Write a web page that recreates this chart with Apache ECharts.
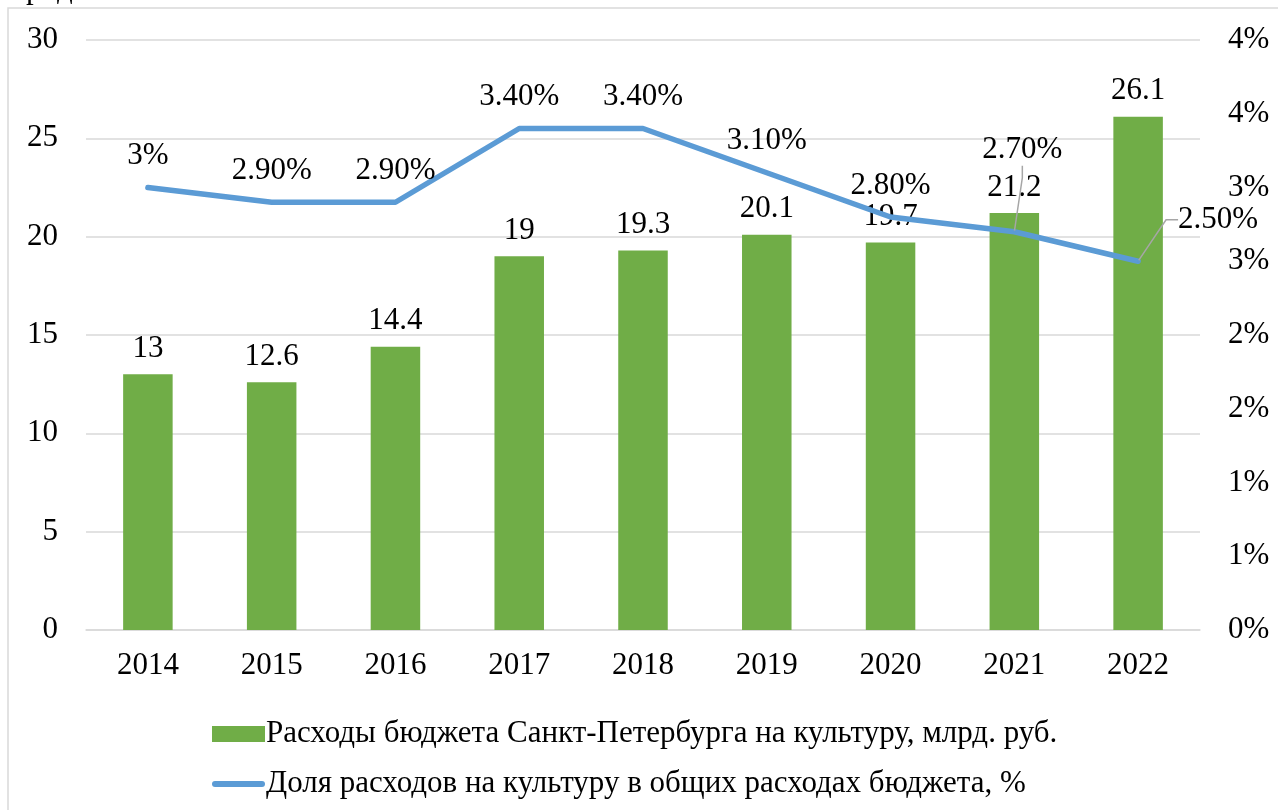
<!DOCTYPE html>
<html>
<head>
<meta charset="utf-8">
<script src="https://cdn.jsdelivr.net/npm/echarts@6/dist/echarts.min.js"></script>
<style>
  html, body { margin: 0; padding: 0; background: #fff; }
  #main { width: 1278px; height: 810px; }
</style>
</head>
<body>
<div id="main"></div>
<script>
// данные с графика
const years = ['2014', '2015', '2016', '2017', '2018', '2019', '2020', '2021', '2022'];
const spending = [13, 12.6, 14.4, 19, 19.3, 20.1, 19.7, 21.2, 26.1];
const share = [3, 2.9, 2.9, 3.4, 3.4, 3.1, 2.8, 2.7, 2.5];
const shareLabels = ['3%', '2.90%', '2.90%', '3.40%', '3.40%', '3.10%', '2.80%', '2.70%', '2.50%'];
const barName = 'Расходы бюджета Санкт-Петербурга на культуру, млрд. руб.';
const lineName = 'Доля расходов на культуру в общих расходах бюджета, %';

const font = "'Liberation Serif', 'Times New Roman', serif";

let myChart = echarts.init(document.getElementById('main'));
myChart.setOption({
  animation: false,
  textStyle: { fontFamily: font },
  graphic: [
    {
      type: 'rect',
      shape: { x: 8, y: 8, width: 1400, height: 900 },
      style: { fill: 'none', stroke: '#d9d9d9', lineWidth: 1.5 },
      silent: true
    },
    {
      type: 'text',
      left: 26, top: -26,
      style: { text: 'р  д', font: '31px ' + font, fill: '#000' }
    }
  ],
  grid: { left: 86, right: 78, top: 40, bottom: 180 },
  legend: {
    orient: 'vertical',
    left: 207,
    top: 712,
    itemWidth: 53,
    itemHeight: 16,
    itemGap: 16,
    textStyle: { fontFamily: font, fontSize: 31, color: '#000', lineHeight: 34, padding: [0, 0, 0, -4] },
    data: [
      { name: barName, icon: 'rect' },
      { name: lineName, icon: 'path://M3,0 L50,0 A3,3 0 0 1 50,6 L3,6 A3,3 0 0 1 3,0 Z' }
    ]
  },
  xAxis: {
    type: 'category',
    data: years,
    axisTick: { show: false },
    axisLine: { lineStyle: { color: '#d9d9d9', width: 1.5 } },
    axisLabel: { color: '#000', fontSize: 31, fontFamily: font, margin: 20 }
  },
  yAxis: [
    {
      type: 'value',
      min: 0, max: 30, interval: 5,
      axisLine: { show: false },
      axisTick: { show: false },
      splitLine: { lineStyle: { color: '#d9d9d9', width: 1.5 } },
      axisLabel: { color: '#000', fontSize: 31, fontFamily: font, margin: 28 }
    },
    {
      type: 'value',
      min: 0, max: 4, interval: 0.5,
      axisLine: { show: false },
      axisTick: { show: false },
      splitLine: { show: false },
      axisLabel: {
        color: '#000', fontSize: 31, fontFamily: font, margin: 28,
        formatter: v => Math.round(v) + '%'
      }
    }
  ],
  series: [
    {
      name: barName,
      type: 'bar',
      data: spending,
      barWidth: '40%',
      itemStyle: { color: '#70AD47' },
      label: {
        show: true,
        position: 'top',
        distance: 10,
        color: '#000',
        fontSize: 31,
        fontFamily: font
      }
    },
    {
      name: lineName,
      type: 'line',
      yAxisIndex: 1,
      data: share.map((v, i) => (i >= 7 ? { value: v, labelLine: { show: true } } : v)),
      color: '#5B9BD5',
      symbol: 'circle',
      symbolSize: 2,
      showSymbol: true,
      lineStyle: { color: '#5B9BD5', width: 5.5, cap: 'round', join: 'round' },
      itemStyle: { color: '#5B9BD5' },
      label: {
        show: true,
        position: 'top',
        distance: 15,
        color: '#000',
        fontSize: 31,
        fontFamily: font,
        formatter: p => shareLabels[p.dataIndex]
      },
      labelLine: {
        show: false,
        length2: 12,
        lineStyle: { color: '#a6a6a6', width: 1.5 }
      },
      labelLayout: function (params) {
        if (params.dataIndex === 7) return { dx: 8, dy: -50 };
        if (params.dataIndex === 8) return { dx: 80, dy: -10 };
        return {};
      },
      z: 3
    }
  ]
});
</script>
</body>
</html>
